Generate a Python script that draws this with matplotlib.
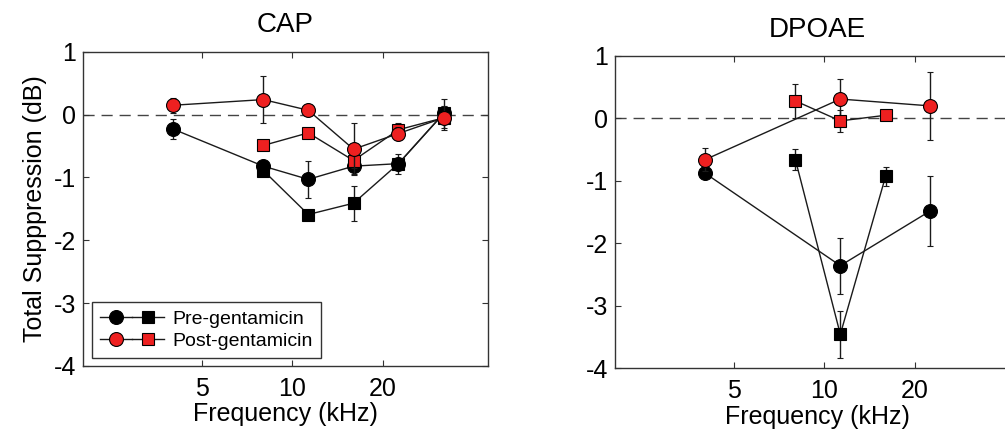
import matplotlib.pyplot as plt
from matplotlib.lines import Line2D
from matplotlib.legend_handler import HandlerTuple
from matplotlib.ticker import FixedLocator, NullLocator, FixedFormatter

plt.rcParams['font.family'] = ['Liberation Sans', 'DejaVu Sans']
plt.rcParams['axes.unicode_minus'] = False

# CAP data (kHz, dB, s.e.m.)
cap_pre_circ_f = [4, 8, 11.3, 16, 22.6, 32]
cap_pre_circ_y = [-0.23, -0.82, -1.03, -0.82, -0.78, 0.02]
cap_pre_circ_e = [0.16, 0.06, 0.30, 0.12, 0.16, 0.23]

cap_pre_sq_f = [8, 11.3, 16, 22.6, 32]
cap_pre_sq_y = [-0.89, -1.59, -1.41, -0.78, 0.02]
cap_pre_sq_e = [0.05, 0.04, 0.28, 0.05, 0.05]

cap_post_circ_f = [4, 8, 11.3, 16, 22.6, 32]
cap_post_circ_y = [0.15, 0.24, 0.07, -0.55, -0.30, -0.05]
cap_post_circ_e = [0.12, 0.37, 0.07, 0.41, 0.11, 0.19]

cap_post_sq_f = [8, 11.3, 16, 22.6, 32]
cap_post_sq_y = [-0.49, -0.29, -0.73, -0.24, -0.05]
cap_post_sq_e = [0.03, 0.08, 0.12, 0.10, 0.05]

# DPOAE data
dp_pre_circ_f = [4, 11.3, 22.6]
dp_pre_circ_y = [-0.88, -2.36, -1.48]
dp_pre_circ_e = [0.05, 0.45, 0.56]

dp_pre_sq_f = [8, 11.3, 16]
dp_pre_sq_y = [-0.66, -3.46, -0.93]
dp_pre_sq_e = [0.17, 0.38, 0.15]

dp_post_circ_f = [4, 11.3, 22.6]
dp_post_circ_y = [-0.66, 0.31, 0.20]
dp_post_circ_e = [0.19, 0.32, 0.54]

dp_post_sq_f = [8, 11.3, 16]
dp_post_sq_y = [0.28, -0.04, 0.05]
dp_post_sq_e = [0.27, 0.17, 0.03]

xticks = [5, 10, 20]
yticks = [-4, -3, -2, -1, 0, 1]

RED = '#ee2020'
LINE = '#1a1a1a'


def series(ax, f, y, e, marker, face, z):
    ms = 10 if marker == 'o' else 8
    ax.errorbar(f, y, yerr=e, fmt='-', marker=marker, ms=ms, mfc=face, mec='black',
                mew=0.8, color=LINE, lw=1.0, ecolor=LINE, elinewidth=1.0,
                capsize=2.5, capthick=1.0, zorder=z)


def style(ax, title):
    ax.set_xscale('log')
    ax.set_xlim(2, 45)
    ax.set_ylim(-4, 1)
    ax.xaxis.set_major_locator(FixedLocator(xticks))
    ax.xaxis.set_major_formatter(FixedFormatter([str(t) for t in xticks]))
    ax.xaxis.set_minor_locator(NullLocator())
    ax.set_yticks(yticks)
    ax.tick_params(direction='in', top=True, right=True, length=4, width=0.8,
                   labelsize=18, color='#333333')
    ax.tick_params(axis='x', pad=8)
    ax.tick_params(axis='y', pad=5)
    for s in ax.spines.values():
        s.set_linewidth(1.0)
        s.set_color('#333333')
    ax.axhline(0, color='#444444', lw=1.0, dashes=(8, 5), zorder=1)
    ax.set_title(title, fontsize=20, pad=14)
    ax.set_xlabel('Frequency (kHz)', fontsize=18, labelpad=1)


fig = plt.figure(figsize=(10.05, 4.34), dpi=100)
ax1 = fig.add_axes([0.0826, 0.157, 0.403, 0.7235])
ax2 = fig.add_axes([0.612, 0.152, 0.403, 0.719])

style(ax1, 'CAP')
style(ax2, 'DPOAE')
ax1.set_ylabel('Total Supppression (dB)', fontsize=18, labelpad=5)

series(ax1, cap_pre_sq_f, cap_pre_sq_y, cap_pre_sq_e, 's', 'black', 3)
series(ax1, cap_pre_circ_f, cap_pre_circ_y, cap_pre_circ_e, 'o', 'black', 4)
series(ax1, cap_post_sq_f, cap_post_sq_y, cap_post_sq_e, 's', RED, 5)
series(ax1, cap_post_circ_f, cap_post_circ_y, cap_post_circ_e, 'o', RED, 6)

series(ax2, dp_pre_circ_f, dp_pre_circ_y, dp_pre_circ_e, 'o', 'black', 3)
series(ax2, dp_pre_sq_f, dp_pre_sq_y, dp_pre_sq_e, 's', 'black', 4)
series(ax2, dp_post_circ_f, dp_post_circ_y, dp_post_circ_e, 'o', RED, 5)
series(ax2, dp_post_sq_f, dp_post_sq_y, dp_post_sq_e, 's', RED, 6)


def handle(marker, face):
    ms = 10 if marker == 'o' else 8
    return Line2D([], [], color=LINE, lw=1.0, marker=marker, ms=ms,
                  mfc=face, mec='black', mew=0.8)


leg = ax1.legend([(handle('o', 'black'), handle('s', 'black')),
                  (handle('o', RED), handle('s', RED))],
                 ['Pre-gentamicin', 'Post-gentamicin'],
                 handler_map={tuple: HandlerTuple(ndivide=None, pad=0)},
                 loc='lower left', bbox_to_anchor=(0.022, 0.025),
                 fontsize=14, handlelength=3.3, handletextpad=0.45,
                 labelspacing=0.25, borderpad=0.4, borderaxespad=0,
                 fancybox=False, framealpha=1, edgecolor='#333333')
leg.get_frame().set_linewidth(1.0)

fig.savefig('out.png', dpi=100)
